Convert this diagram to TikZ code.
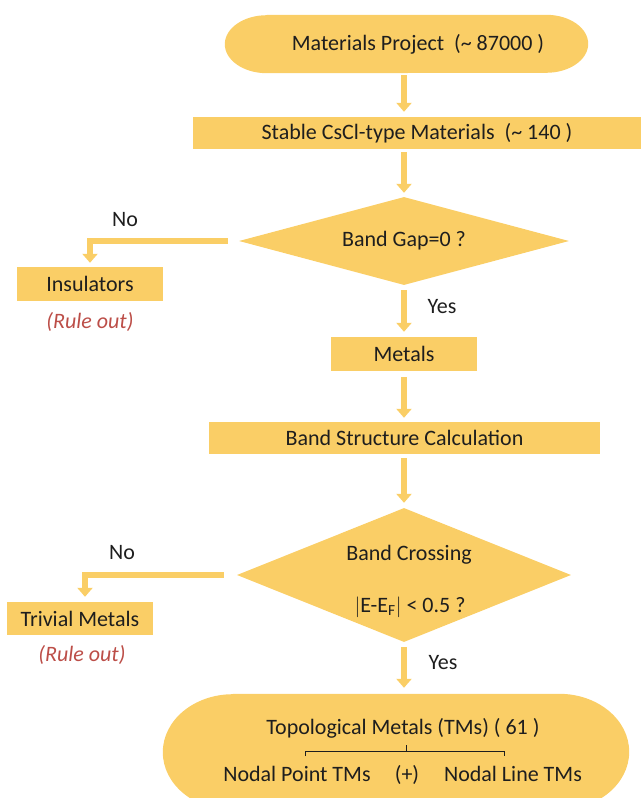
\documentclass[tikz,border=0pt]{standalone}
\usepackage{fontspec}
\setmainfont{Carlito}
\usetikzlibrary{arrows.meta,calc,shapes.geometric}
\definecolor{gold}{RGB}{250,206,102}
\definecolor{txt}{RGB}{30,30,30}
\definecolor{rulered}{RGB}{188,78,72}
\begin{document}
\begin{tikzpicture}[x=1pt,y=-1pt,
  txtfont/.style={font=\fontsize{22}{25}\selectfont},
  box/.style={fill=gold, text=txt, inner sep=0pt, txtfont},
  lbl/.style={text=txt, inner sep=0pt, txtfont},
  ruleout/.style={text=rulered, inner sep=0pt, font=\fontsize{22}{25}\selectfont\itshape},
  dia/.style={diamond, fill=gold, inner sep=0pt},
  flow/.style={draw=gold, line width=6pt, -{Triangle[width=15pt,length=9pt]}},
  brk/.style={draw=txt, line width=0.8pt}]
\useasboundingbox (0,0) rectangle (641,798);
\clip (0,0) rectangle (641,798);

% top stadium
\node[inner sep=0pt, minimum width=363pt, minimum height=58pt] (mp) at (406.5,44) {};
\fill[gold] ($(mp.north west)+(42,0)$) -- ($(mp.north east)+(-42,0)$)
  arc[start angle=90,end angle=-90,x radius=42pt,y radius=29pt]
  -- ($(mp.south west)+(42,0)$)
  arc[start angle=270,end angle=90,x radius=42pt,y radius=29pt] -- cycle;
\node[lbl] (mpt) at (418,44) {Materials Project\ \ (\textasciitilde\ 87000 )};

% stable
\node[box, minimum width=448pt, minimum height=32pt] (st) at (417,133) {Stable CsCl-type Materials\ \ (\textasciitilde\ 140 )};

% diamond 1
\node[dia, minimum width=330pt, minimum height=88pt] (d1) at (404,241) {};
\node[lbl] (d1t) at (404,241) {Band Gap=0 ?};

% insulators
\node[box, minimum width=146pt, minimum height=34pt] (ins) at (90,284) {Insulators};
\node[lbl] (no1) at (125,220) {No};
\node[ruleout] (ro1) at (90,322) {(Rule out)};
\node[lbl] (yes1) at (442,307) {Yes};

% metals
\node[box, minimum width=146pt, minimum height=34pt] (met) at (404,354) {Metals};

% band structure
\node[box, minimum width=391pt, minimum height=32pt] (bsc) at (404.5,438) {Band Structure Calculation};

% diamond 2
\node[dia, minimum width=334pt, minimum height=134pt] (d2) at (404,575) {};
\node[lbl] (bct) at (409,555) {Band Crossing};
\node[lbl] (eft) at (410,607) {$|$E-E\textsubscript{F}$|$ {<} 0.5 ?};

% trivial metals
\node[box, minimum width=146pt, minimum height=33pt] (tm) at (80,618.5) {Trivial Metals};
\node[lbl] (no2) at (122,553) {No};
\node[ruleout] (ro2) at (82,655) {(Rule out)};
\node[lbl] (yes2) at (443,663) {Yes};

% bottom stadium
\node[inner sep=0pt, minimum width=466pt, minimum height=116pt] (tms) at (396,752) {};
\fill[gold] ($(tms.north west)+(70,0)$) -- ($(tms.north east)+(-70,0)$)
  arc[start angle=90,end angle=-90,x radius=70pt,y radius=58pt]
  -- ($(tms.south west)+(70,0)$)
  arc[start angle=270,end angle=90,x radius=70pt,y radius=58pt] -- cycle;
\node[lbl] (tmt) at (403,728) {Topological Metals (TMs) ( 61 )};
\node[lbl] (npt) at (297,774) {Nodal Point TMs};
\node[lbl] (plus) at (407,775) {(+)};
\node[lbl] (nlt) at (513,774) {Nodal Line TMs};

% bracket
\coordinate (bl) at (305,751);
\coordinate (br) at (504,751);
\coordinate (bm) at (406,751);
\draw[brk] ($(bl)+(0,5)$) -- (bl) -- (br) -- ($(br)+(0,5)$);
\draw[brk] (bm) -- ($(bm)+(0,-6)$);

% connectors
\draw[flow, shorten <=2pt, shorten >=5pt] (mp.south -| d1.north) -- (st.north -| d1.north);
\draw[flow, shorten <=3pt, shorten >=4pt] (st.south -| d1.north) -- (d1.north);
\draw[flow, shorten <=11pt, shorten >=4pt] (d1.west) -| (ins.north);
\draw[flow, shorten <=5pt, shorten >=5pt] (d1.south) -- (met.north);
\draw[flow, shorten <=6pt, shorten >=4pt] (met.south) -- (bsc.north -| met.south);
\draw[flow, shorten <=4pt, shorten >=5pt] (bsc.south -| d2.north) -- (d2.north);
\draw[flow, shorten <=13pt, shorten >=5pt] (d2.west) -| ($(tm.north)+(5,0)$);
\draw[flow, shorten <=5pt, shorten >=6pt] (d2.south) -- (tms.north -| d2.south);
\end{tikzpicture}
\end{document}
